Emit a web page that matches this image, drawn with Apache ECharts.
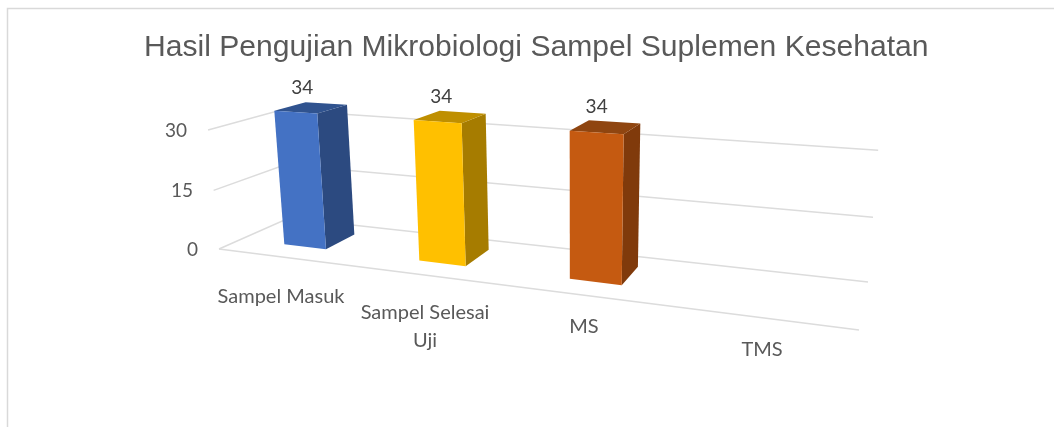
<!DOCTYPE html>
<html>
<head>
<meta charset="utf-8">
<script src="https://cdn.jsdelivr.net/npm/echarts@6/dist/echarts.min.js"></script>
<style>
  html, body { margin: 0; padding: 0; background: #fff; }
  #chart { width: 1054px; height: 427px; }
</style>
</head>
<body>
<div id="chart"></div>
<script>
const chartTitle = "Hasil Pengujian Mikrobiologi Sampel Suplemen Kesehatan";
const categories = ["Sampel Masuk", "Sampel Selesai\nUji", "MS", "TMS"];
const sampleCounts = [34, 34, 34, null];
const valueTicks = [0, 15, 30];
const barColors = [
  { front: "#4472c4", side: "#2c4a80", top: "#30538f" },
  { front: "#ffc000", side: "#a67c00", top: "#bf8f00" },
  { front: "#c55a11", side: "#803a0b", top: "#8f4510" },
];

// padding [top, right] that puts the flat axis labels where the tilted floor has them
const labelPads = [[33, 36], [49, 68], [63, 70], [86, 34]];
const yLabelNudge = { 0: 0, 15: 5, 30: 11 };

// camera: corners of the tilted floor (front-left, front-right, back-right, back-left)
// and what one full y axis adds to the homogeneous point
const floorQuad = [[219, 249], [859, 330], [868, 282], [289, 218]];
const rise = [-17.2, -122.9, -0.03];
const barDepth = [0.3, 0.75];
const barShare = 0.32;

function squareToQuad(q) {
  const dx1 = q[1][0] - q[2][0], dx2 = q[3][0] - q[2][0], dx3 = q[0][0] - q[1][0] + q[2][0] - q[3][0];
  const dy1 = q[1][1] - q[2][1], dy2 = q[3][1] - q[2][1], dy3 = q[0][1] - q[1][1] + q[2][1] - q[3][1];
  const den = dx1 * dy2 - dx2 * dy1;
  const g = (dx3 * dy2 - dx2 * dy3) / den;
  const h = (dx1 * dy3 - dx3 * dy1) / den;
  const a = q[1][0] - q[0][0] + g * q[1][0], b = q[3][0] - q[0][0] + h * q[3][0];
  const d = q[1][1] - q[0][1] + g * q[1][1], e = q[3][1] - q[0][1] + h * q[3][1];
  return (u, w) => [a * u + b * w + q[0][0], d * u + e * w + q[0][1], g * u + h * w + 1];
}
const floorAt = squareToQuad(floorQuad);

// u: share of the x axis, v: share of the y axis, w: depth 0 front .. 1 back
function project(u, v, w) {
  const p = floorAt(u, w);
  const k = p[2] + rise[2] * v;
  return [(p[0] + rise[0] * v) / k, (p[1] + rise[1] * v) / k];
}

function toShares(pt, cs) {
  return [(pt[0] - cs.x) / cs.width, (cs.y + cs.height - pt[1]) / cs.height];
}

function renderGridLine(params, api) {
  const cs = params.coordSys;
  const v = toShares(api.coord([0, api.value(1)]), cs)[1];
  const lineStyle = { stroke: "#dcdcdc", lineWidth: 1.5, fill: null };
  const children = [{
    type: "polyline",
    shape: { points: [project(0, v, 0), project(0, v, 1), project(1, v, 1)] },
    style: lineStyle,
  }];
  if (api.value(1) === 0) {
    children.push({
      type: "polyline",
      shape: { points: [project(0, 0, 0), project(1, 0, 0)] },
      style: lineStyle,
    });
  }
  return { type: "group", children };
}

function renderBar(params, api) {
  const val = api.value(1);
  if (isNaN(val)) return;
  const cs = params.coordSys;
  const i = api.value(0);
  const top = toShares(api.coord([i, val]), cs);
  const half = (api.size([1, 0])[0] * barShare) / 2 / cs.width;
  const u0 = top[0] - half, u1 = top[0] + half;
  const v = top[1];
  const w0 = barDepth[0], w1 = barDepth[1];
  const c = barColors[i];
  const labelAt = project(top[0], v, (w0 + w1) / 2);
  const face = (points, fill) => ({
    type: "polygon",
    shape: { points },
    style: { fill },
  });
  return {
    type: "group",
    children: [
      face([project(u1, 0, w0), project(u1, 0, w1), project(u1, v, w1), project(u1, v, w0)], c.side),
      face([project(u0, v, w0), project(u1, v, w0), project(u1, v, w1), project(u0, v, w1)], c.top),
      face([project(u0, 0, w0), project(u1, 0, w0), project(u1, v, w0), project(u0, v, w0)], c.front),
      {
        type: "text",
        style: {
          x: labelAt[0] - 9,
          y: labelAt[1] - 20,
          text: String(val),
          fill: "#404040",
          font: "19px Lato",
          align: "center",
          verticalAlign: "middle",
        },
      },
    ],
  };
}

const chart = echarts.init(document.getElementById("chart"), null, { renderer: "canvas" });
chart.setOption({
  animation: false,
  backgroundColor: "#fff",
  title: {
    text: chartTitle,
    left: 144,
    top: 33,
    padding: 0,
    textStyle: { fontFamily: "Liberation Sans", fontSize: 30.1, fontWeight: "normal", color: "#595959" },
  },
  graphic: [{
    type: "polyline",
    silent: true,
    shape: { points: [[7.5, 427], [7.5, 8.5], [1054, 8.5]] },
    style: { stroke: "#d9d9d9", lineWidth: 1.5, fill: null },
  }],
  grid: { left: 219, top: 131, width: 640, height: 119, containLabel: false },
  xAxis: {
    type: "category",
    data: categories.map((name, i) => ({
      value: name,
      textStyle: { padding: [labelPads[i][0], labelPads[i][1], 0, 0] },
    })),
    axisLine: { show: false },
    axisTick: { show: false },
    splitLine: { show: false },
    axisLabel: { interval: 0, margin: 0, fontFamily: "Lato", fontSize: 20, lineHeight: 28, color: "#595959", hideOverlap: false },
  },
  yAxis: {
    type: "value",
    min: 0,
    max: 30,
    interval: 15,
    axisLine: { show: false },
    axisTick: { show: false },
    splitLine: { show: false },
    axisLabel: {
      margin: 21,
      formatter: (v) => `{n${v}|${v}}`,
      rich: {
        n0: { fontFamily: "Lato", fontSize: 19, color: "#595959", padding: [0, yLabelNudge[0], 0, 0] },
        n15: { fontFamily: "Lato", fontSize: 19, color: "#595959", padding: [0, yLabelNudge[15], 0, 0] },
        n30: { fontFamily: "Lato", fontSize: 19, color: "#595959", padding: [0, yLabelNudge[30], 0, 0] },
      },
    },
  },
  series: [
    {
      type: "custom",
      name: "gridlines",
      silent: true,
      clip: false,
      z: 1,
      renderItem: renderGridLine,
      encode: { x: 0, y: 1 },
      data: valueTicks.map((t) => [0, t]),
    },
    {
      type: "custom",
      name: "Jumlah sampel",
      clip: false,
      z: 2,
      renderItem: renderBar,
      encode: { x: 0, y: 1 },
      data: sampleCounts.map((v, i) => [i, v]),
    },
  ],
});
</script>
</body>
</html>
